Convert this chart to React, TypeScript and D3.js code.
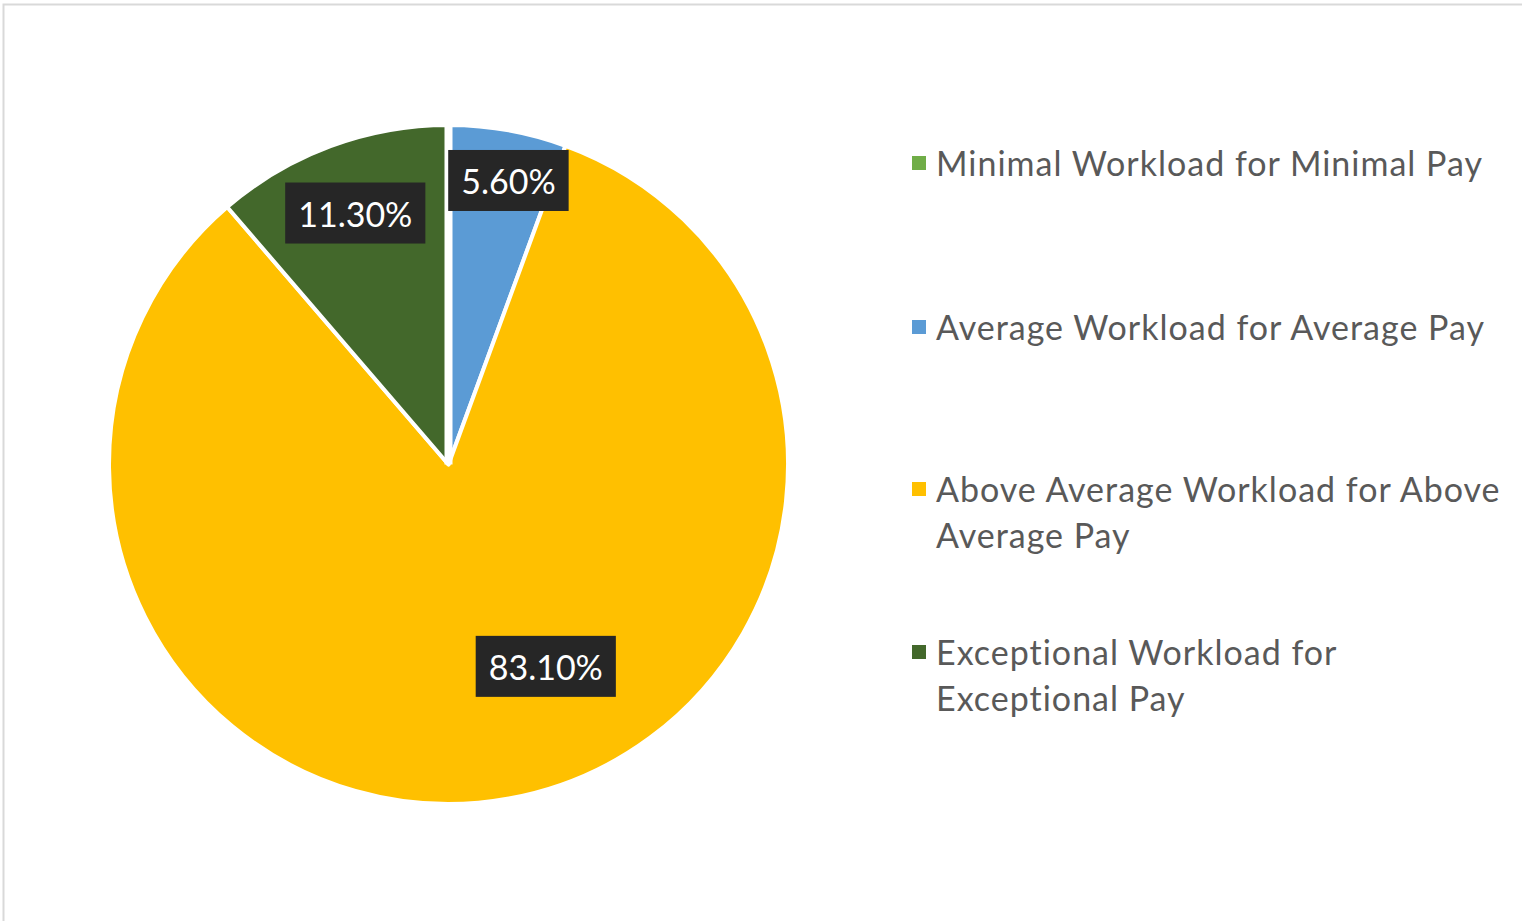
import React, { useEffect, useRef } from "react";
import * as d3 from "d3";

const categories = [
  "Minimal Workload for Minimal Pay",
  "Average Workload for Average Pay",
  "Above Average Workload for Above Average Pay",
  "Exceptional Workload for Exceptional Pay",
];
const values = [0, 5.6, 83.1, 11.3];
const labels = ["", "5.60%", "83.10%", "11.30%"];
const legendLines = [
  ["Minimal Workload for Minimal Pay"],
  ["Average Workload for Average Pay"],
  ["Above Average Workload for Above", "Average Pay"],
  ["Exceptional Workload for", "Exceptional Pay"],
];
const colors = ["#70AD47", "#5B9BD5", "#FFC000", "#43682B"];
// label placement: fraction of radius, angle offset (radians) from slice mid-angle
const labelPlacement = [
  { r: 0, da: 0 },
  { r: 0.855, da: 0.032 },
  { r: 0.66, da: -0.27 },
  { r: 0.79, da: 0 },
];

const W = 1522;
const H = 921;
const FONT = "Lato, 'Open Sans', sans-serif";

export default function App() {
  const ref = useRef<SVGSVGElement | null>(null);

  useEffect(() => {
    const svg = d3.select(ref.current);
    svg.selectAll("*").remove();

    svg.append("rect").attr("width", W).attr("height", H).attr("fill", "#fff");
    svg
      .append("rect")
      .attr("x", 3.5)
      .attr("y", 4.5)
      .attr("width", W + 20)
      .attr("height", H + 20)
      .attr("fill", "none")
      .attr("stroke", "#d9d9d9")
      .attr("stroke-width", 2);

    const cx = 448.5;
    const cy = 464.5;
    const R = 339.5;

    const pie = d3
      .pie<number>()
      .sort(null)
      .value((d) => d);
    const arcs = pie(values);
    const arc = d3.arc<d3.PieArcDatum<number>>().innerRadius(0).outerRadius(R);

    const g = svg.append("g").attr("transform", `translate(${cx},${cy})`);
    g.selectAll("path.slice")
      .data(arcs)
      .enter()
      .append("path")
      .attr("class", "slice")
      .attr("d", (d) => arc(d) as string)
      .attr("fill", (d, i) => colors[i])
      .attr("stroke", "#fff")
      .attr("stroke-width", 4)
      .attr("stroke-linejoin", "round");

    // zero-width slice separator line
    arcs.forEach((a) => {
      if (a.endAngle - a.startAngle === 0) {
        const ang = a.startAngle;
        g.append("line")
          .attr("x1", 0)
          .attr("y1", 0)
          .attr("x2", Math.sin(ang) * (R + 2))
          .attr("y2", -Math.cos(ang) * (R + 2))
          .attr("stroke", "#fff")
          .attr("stroke-width", 8);
      }
    });

    // data labels
    arcs.forEach((a, i) => {
      if (!labels[i]) return;
      const p = labelPlacement[i];
      const mid = (a.startAngle + a.endAngle) / 2 + p.da;
      const x = Math.sin(mid) * R * p.r;
      const y = -Math.cos(mid) * R * p.r;
      const lg = g.append("g").attr("transform", `translate(${x},${y})`);
      const box = lg.append("rect").attr("fill", "#262626");
      const t = lg
        .append("text")
        .attr("text-anchor", "middle")
        .attr("dominant-baseline", "central")
        .attr("font-family", FONT)
        .attr("font-size", 34)
        .attr("fill", "#ffffff")
        .text(labels[i]);
      const bb = (t.node() as SVGTextElement).getBBox();
      const bw = bb.width + 26;
      const bh = 61;
      box
        .attr("x", -bw / 2)
        .attr("y", -bh / 2)
        .attr("width", bw)
        .attr("height", bh);
    });

    // legend
    const legendX = 912;
    const legendTops = [156, 320, 482, 645];
    const lineH = 45.5;
    categories.forEach((c, i) => {
      const lg = svg.append("g");
      lg.append("rect")
        .attr("x", legendX)
        .attr("y", legendTops[i])
        .attr("width", 14)
        .attr("height", 14)
        .attr("fill", colors[i]);
      const t = lg
        .append("text")
        .attr("font-family", FONT)
        .attr("font-size", 34)
        .attr("letter-spacing", 1)
        .attr("fill", "#595959");
      legendLines[i].forEach((ln, j) => {
        t.append("tspan")
          .attr("x", legendX + 24)
          .attr("y", legendTops[i] + 20 + j * lineH)
          .text(ln);
      });
    });
  }, []);

  return (
    <svg
      ref={ref}
      width={W}
      height={H}
      style={{ position: "absolute", left: 0, top: 0, display: "block" }}
    />
  );
}
